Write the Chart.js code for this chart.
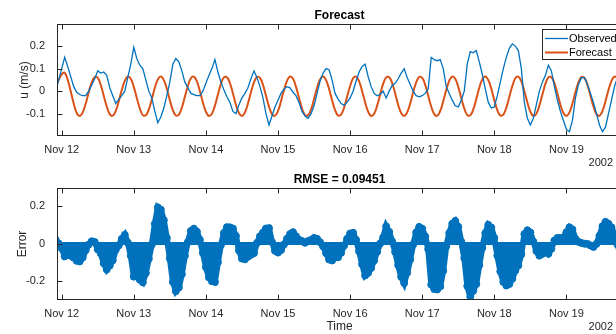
<!DOCTYPE html>
<html>
<head>
<meta charset="utf-8">
<script src="https://cdn.jsdelivr.net/npm/chart.js@4.4.0/dist/chart.umd.min.js"></script>
<style>
  html, body { margin: 0; padding: 0; background: #fff; overflow: hidden; }
  #wrap { position: relative; width: 616px; height: 334px; overflow: hidden; }
  canvas { position: absolute; left: 0; }
  #top { top: 0; }
  #bottom { top: 167px; }
</style>
</head>
<body>
<div id="wrap">
  <canvas id="top" width="630" height="167"></canvas>
  <canvas id="bottom" width="630" height="167"></canvas>
</div>
<script>
// hourly samples, first one at Nov 11 22:00 (hour -2 from Nov 12 00:00)
const startHour = -2;

const tickLabels = ['Nov 12', 'Nov 13', 'Nov 14', 'Nov 15', 'Nov 16', 'Nov 17', 'Nov 18', 'Nov 19'];
const uTicks = [-0.1, 0, 0.1, 0.2];
const errTicks = [-0.2, 0, 0.2];

const observed = [
  0.00, 0.05, 0.10, 0.15, 0.11, 0.065, 0.02, -0.005, -0.015, -0.02, -0.02, 0.00,
  0.027, 0.055, 0.09, 0.08, 0.085, 0.07, 0.015, -0.02, -0.055, -0.035, -0.02, 0.00,
  0.06, 0.12, 0.195, 0.145, 0.115, 0.10, 0.05, 0.00, -0.03, -0.09, -0.14, -0.115,
  -0.075, -0.02, 0.04, 0.12, 0.145, 0.13, 0.09, 0.04, 0.015, -0.01, -0.015, -0.02,
  -0.02, 0.00, 0.035, 0.07, 0.10, 0.14, 0.085, 0.04, 0.005, -0.025, -0.05, -0.09,
  -0.10, -0.06, -0.03, -0.01, 0.015, 0.055, 0.09, 0.06, 0.02, -0.03, -0.10, -0.15,
  -0.11, -0.07, -0.04, -0.01, 0.01, 0.02, 0.015, -0.005, -0.02, -0.05, -0.09, -0.11,
  -0.12, -0.10, -0.065, -0.01, 0.045, 0.08, 0.10, 0.095, 0.05, -0.01, -0.035, -0.055,
  -0.062, -0.05, -0.03, 0.00, 0.045, 0.085, 0.11, 0.12, 0.065, 0.02, -0.01, -0.02,
  -0.015, 0.00, -0.03, 0.00, 0.025, 0.035, 0.055, 0.08, 0.10, 0.06, 0.03, 0.00,
  -0.02, -0.025, -0.02, -0.01, 0.01, 0.15, 0.14, 0.135, 0.14, 0.10, 0.02, -0.01,
  -0.04, -0.065, -0.07, -0.04, 0.00, 0.12, 0.175, 0.17, 0.18, 0.13, 0.075, 0.01,
  -0.05, -0.075, -0.07, -0.02, 0.04, 0.10, 0.15, 0.19, 0.21, 0.20, 0.18, 0.10,
  -0.05, -0.12, -0.15, -0.12, -0.06, 0.00, 0.04, 0.07, 0.115, 0.09, 0.02, -0.04,
  -0.09, -0.13, -0.17, -0.18, -0.13, -0.03, 0.03, 0.06, 0.06, 0.03, -0.01, -0.05,
  -0.10, -0.15, -0.18, -0.16, -0.10, -0.04, 0.02, 0.06, 0.08
];

const forecast = [
  0.02, 0.05,
  0.075, 0.082, 0.05, 0.00, -0.055, -0.097, -0.110, -0.094, -0.055, -0.005,
  0.039, 0.063, 0.059, 0.028, -0.020, -0.068, -0.102, -0.109, -0.088, -0.045,
  0.005, 0.046, 0.065, 0.055, 0.019, -0.030, -0.077, -0.106, -0.107, -0.081,
  -0.035, 0.015, 0.052, 0.065, 0.049, 0.010, -0.040, -0.084, -0.108, -0.104,
  -0.073, -0.025, 0.023, 0.057, 0.064, 0.043, 0.000, -0.050, -0.091, -0.110,
  -0.100, -0.064, -0.015, 0.032,
  0.061, 0.062, 0.036, -0.010, -0.060, -0.097, -0.110, -0.094, -0.055, -0.005,
  0.039, 0.063, 0.059, 0.028, -0.020, -0.068, -0.102, -0.109, -0.088, -0.045,
  0.005, 0.046, 0.065, 0.055, 0.019, -0.030, -0.077, -0.106, -0.107, -0.081,
  -0.035, 0.015, 0.052, 0.065, 0.049, 0.010, -0.040, -0.084, -0.108, -0.104,
  -0.073, -0.025, 0.023, 0.057, 0.064, 0.043, 0.000, -0.050, -0.091, -0.110,
  -0.100, -0.064, -0.015, 0.032,
  0.061, 0.062, 0.036, -0.010, -0.060, -0.097, -0.110, -0.094, -0.055, -0.005,
  0.039, 0.063, 0.059, 0.028, -0.020, -0.068, -0.102, -0.109, -0.088, -0.045,
  0.005, 0.046, 0.065, 0.055, 0.019, -0.030, -0.077, -0.106, -0.107, -0.081,
  -0.035, 0.015, 0.052, 0.065, 0.049, 0.010, -0.040, -0.084, -0.108, -0.104,
  -0.073, -0.025, 0.023, 0.057, 0.064, 0.043, 0.000, -0.050, -0.091, -0.110,
  -0.100, -0.064, -0.015, 0.032,
  0.061, 0.062, 0.036, -0.010, -0.060, -0.097, -0.110, -0.094, -0.055, -0.005,
  0.039, 0.063, 0.059, 0.028, -0.020, -0.068, -0.102, -0.109, -0.088, -0.045,
  0.005, 0.046, 0.065, 0.055, 0.019
];

const rmseText = 'RMSE = 0.09451';

const BLUE = '#0072BD';
const ORANGE = '#D95319';
const AXIS = '#262626';
const FONT = "'Liberation Sans', Arial, Helvetica, sans-serif";

const tickHours = tickLabels.map((_, i) => 24 * i);
const toPoints = arr => arr.map((v, i) => ({ x: startHour + i, y: v }));
const errorVals = forecast.map((f, i) => f - observed[i]);

// MATLAB-like box, inward ticks, titles and labels
const matlabAxes = {
  id: 'matlabAxes',
  beforeDatasetsDraw(chart, args, opts) {
    if (!opts.baseline) return;
    const { ctx, chartArea: a, scales: { y } } = chart;
    const py = y.getPixelForValue(0);
    ctx.save();
    ctx.strokeStyle = BLUE;
    ctx.lineWidth = 3;
    ctx.beginPath();
    ctx.moveTo(a.left, py);
    ctx.lineTo(a.right, py);
    ctx.stroke();
    ctx.restore();
  },
  afterDraw(chart, args, opts) {
    const { ctx, chartArea: a, scales: { x, y } } = chart;
    ctx.save();
    ctx.strokeStyle = AXIS;
    ctx.lineWidth = 1;
    const L = Math.round(a.left) + 0.5, R = Math.round(a.right) - 0.5;
    const T = Math.round(a.top) + 0.5, B = Math.round(a.bottom) - 0.5;
    ctx.strokeRect(L, T, R - L, B - T);
    ctx.beginPath();
    x.ticks.forEach(t => {
      const px = Math.round(x.getPixelForValue(t.value)) + 0.5;
      ctx.moveTo(px, B); ctx.lineTo(px, B - 5);
      ctx.moveTo(px, T); ctx.lineTo(px, T + 5);
    });
    y.ticks.forEach(t => {
      const py = Math.round(y.getPixelForValue(t.value)) + 0.5;
      ctx.moveTo(L, py); ctx.lineTo(L + 5, py);
      ctx.moveTo(R, py); ctx.lineTo(R - 5, py);
    });
    ctx.stroke();

    const cx = (a.left + a.right) / 2;
    ctx.fillStyle = '#000';
    ctx.textAlign = 'center';
    ctx.textBaseline = 'middle';
    ctx.font = 'bold 12px ' + FONT;
    ctx.fillText(opts.title, cx, a.top - 8);

    ctx.fillStyle = AXIS;
    ctx.font = '12px ' + FONT;
    ctx.save();
    ctx.translate(opts.ylabelX, (a.top + a.bottom) / 2);
    ctx.rotate(-Math.PI / 2);
    ctx.fillText(opts.ylabel, 0, 0);
    ctx.restore();
    if (opts.xlabel) ctx.fillText(opts.xlabel, cx, opts.xlabelY);
    ctx.font = '11px ' + FONT;
    ctx.textAlign = 'right';
    ctx.fillText(opts.year, 613, opts.xlabelY);

    if (opts.legend) {
      const lx = 542, ly = 29;
      ctx.fillStyle = '#fff';
      ctx.fillRect(lx, ly, 120, 31);
      ctx.strokeStyle = AXIS;
      ctx.strokeRect(lx + 0.5, ly + 0.5, 120, 30);
      ctx.textAlign = 'left';
      ctx.font = '11px ' + FONT;
      chart.data.datasets.forEach((ds, i) => {
        const yy = ly + 9.5 + i * 14;
        ctx.strokeStyle = ds.borderColor;
        ctx.lineWidth = ds.borderWidth;
        ctx.beginPath();
        ctx.moveTo(lx + 3, yy); ctx.lineTo(lx + 26, yy);
        ctx.stroke();
        ctx.fillStyle = '#000';
        ctx.fillText(ds.label, lx + 27, yy);
      });
    }
    ctx.restore();
  }
};

function xAxis(bottomSpace) {
  return {
    type: 'linear', min: -1.56, max: 186.5,
    grid: { display: false }, border: { display: false },
    afterBuildTicks: s => { s.ticks = tickHours.map(v => ({ value: v })); },
    afterFit: s => { s.height = bottomSpace; },
    ticks: {
      font: { family: FONT, size: 11 }, color: AXIS, padding: -1,
      maxRotation: 0, autoSkip: false,
      callback: (v, i) => tickLabels[i]
    }
  };
}

function yAxis(min, max, ticks) {
  return {
    min: min, max: max,
    grid: { display: false }, border: { display: false },
    afterBuildTicks: s => { s.ticks = ticks.map(v => ({ value: v })); },
    afterFit: s => { s.width = 57; },
    ticks: {
      font: { family: FONT, size: 11 }, color: AXIS, padding: 4,
      callback: v => String(v)
    }
  };
}

new Chart(document.getElementById('top'), {
  type: 'line',
  data: {
    datasets: [
      { label: 'Observed', data: toPoints(observed), borderColor: BLUE, borderWidth: 1.3,
        pointRadius: 0, tension: 0, clip: 0 },
      { label: 'Forecast', data: toPoints(forecast), borderColor: ORANGE, borderWidth: 2,
        pointRadius: 0, tension: 0.4, clip: 0 }
    ]
  },
  options: {
    responsive: false, animation: false, devicePixelRatio: 1,
    layout: { padding: { top: 24, left: 0, right: 8, bottom: 0 } },
    scales: { x: xAxis(31), y: yAxis(-0.199, 0.298, uTicks) },
    plugins: {
      legend: { display: false }, tooltip: { enabled: false },
      matlabAxes: { title: 'Forecast', ylabel: 'u (m/s)', ylabelX: 25, xlabel: '', xlabelY: 162.5, year: '2002', legend: true }
    }
  },
  plugins: [matlabAxes]
});

new Chart(document.getElementById('bottom'), {
  type: 'line',
  data: {
    datasets: [
      { label: 'Error', data: toPoints(errorVals), borderColor: BLUE, borderWidth: 6,
        backgroundColor: BLUE, fill: 'origin', tension: 0, clip: 0,
        pointRadius: 3.5, pointStyle: 'circle', pointBorderColor: BLUE,
        pointBackgroundColor: BLUE, pointBorderWidth: 1 }
    ]
  },
  options: {
    responsive: false, animation: false, devicePixelRatio: 1,
    layout: { padding: { top: 21, left: 0, right: 8, bottom: 0 } },
    scales: { x: xAxis(34), y: yAxis(-0.3, 0.295, errTicks) },
    plugins: {
      legend: { display: false }, tooltip: { enabled: false },
      matlabAxes: { title: rmseText, ylabel: 'Error', ylabelX: 23, xlabel: 'Time', xlabelY: 160, year: '2002', legend: false, baseline: true }
    }
  },
  plugins: [matlabAxes]
});
</script>
</body>
</html>
